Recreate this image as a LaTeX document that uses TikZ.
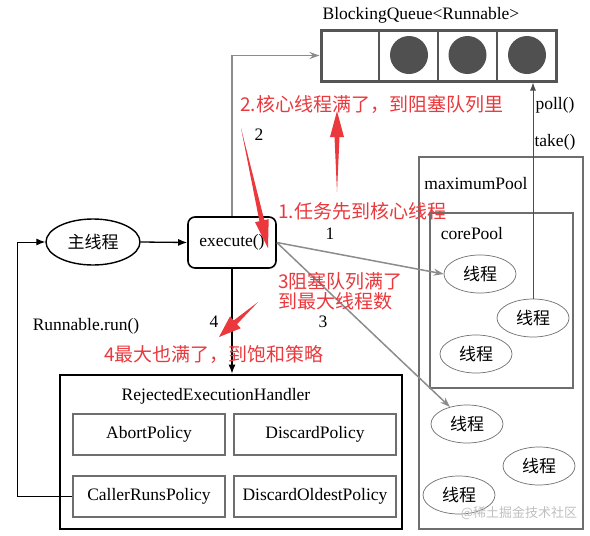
\documentclass[tikz,border=0pt]{standalone}
\usepackage{fontspec}
\setmainfont{Liberation Serif}
\newfontfamily\cjk{Noto Sans CJK SC}
\usetikzlibrary{arrows.meta,calc,shapes.geometric}
\definecolor{anno}{RGB}{234,56,60}
\definecolor{qgray}{RGB}{85,85,85}
\definecolor{dotgray}{RGB}{80,80,80}
\definecolor{boxgray}{RGB}{110,110,110}
\definecolor{lingray}{RGB}{140,140,140}
\newcommand\annoarrow[5]{%
  \fill[anno] (#1) -- ($(#2)!#3!(#1)!#5!90:(#2)$) -- ($(#2)!#3!(#1)!#4!90:(#2)$)
    -- (#2) -- ($(#2)!#3!(#1)!#4!-90:(#2)$) -- ($(#2)!#3!(#1)!#5!-90:(#2)$) -- cycle;}
\begin{document}
\begin{tikzpicture}[x=1pt,y=-1pt,
  lbl/.style={font=\fontsize{17.5}{19}\selectfont, inner sep=1pt},
  redtxt/.style={font=\cjk\fontsize{19}{21}\selectfont, text=anno, anchor=west, inner sep=0pt},
  pbox/.style={draw=boxgray, line width=2.6pt, minimum height=41, inner sep=0pt, font=\fontsize{17.5}{19}\selectfont},
  thr/.style={ellipse, draw=boxgray, line width=0.7pt, minimum width=72, minimum height=38, inner sep=0pt, font=\cjk\fontsize{17}{19}\selectfont},
  blk/.style={line width=1.3pt, -{Latex[length=9pt,width=7pt]}},
  garrow/.style={draw=lingray, line width=1.5pt, -{Stealth[length=10pt,width=7pt]}}
]
\useasboundingbox (0,0) rectangle (590,536);
% queue
\node[lbl] (qlabel) at (421,15) {BlockingQueue<Runnable>};
\node[draw=qgray, line width=3pt, minimum width=235, minimum height=51, inner sep=0pt] (queue) at (438.5,55.5) {};
\draw[qgray, line width=2.2pt] (379,30) -- (379,81) (438,30) -- (438,81) (497,30) -- (497,81);
\fill[dotgray] (409,55) circle (19);
\fill[dotgray] (467.5,55) circle (19);
\fill[dotgray] (527,55) circle (19);
% main thread and execute
\node[ellipse, draw, line width=1.4pt, minimum width=94, minimum height=46, inner sep=0pt, font=\cjk\fontsize{17}{19}\selectfont] (main) at (93,242) {主线程};
\node[draw, rounded corners=7, line width=1.6pt, minimum width=88, minimum height=51, inner sep=0pt, font=\fontsize{17.5}{19}\selectfont] (exec) at (232,242.5) {execute()};
% rejected handler
\node[draw, line width=2.6pt, minimum width=342, minimum height=154, inner sep=0pt] (reh) at (231,452) {};
\node[lbl] (rehlabel) at (216,396) {RejectedExecutionHandler};
\node[pbox, minimum width=152] (abort) at (149,434.5) {AbortPolicy};
\node[pbox, minimum width=162] (discard) at (315,434.5) {DiscardPolicy};
\node[pbox, minimum width=152] (caller) at (149,496.5) {CallerRunsPolicy};
\node[pbox, minimum width=162] (oldest) at (315,496.5) {DiscardOldestPolicy};
% pools
\node[draw=boxgray, line width=2.6pt, minimum width=164, minimum height=372, inner sep=0pt] (maxpool) at (501,343) {};
\node[lbl] (maxlabel) at (476,184) {maximumPool};
\node[draw=boxgray, line width=2.6pt, minimum width=143, minimum height=175, inner sep=0pt] (corepool) at (501.5,300.5) {};
\node[lbl] (corelabel) at (472,234) {corePool};
\node[thr] (t1) at (480,274) {线程};
\node[thr] (t2) at (533,318) {线程};
\node[thr] (t3) at (476,354) {线程};
\node[thr] (t4) at (467,424) {线程};
\node[thr] (t5) at (539,466) {线程};
\node[thr] (t6) at (459,495) {线程};
% connectors
\draw[blk] (main.east) -- (exec.west);
\draw[blk, line width=1pt] (caller.west) -- ++(-54,0) |- (main.west);
\draw[blk] (exec.south) -- (exec.south |- reh.north);
\draw[garrow] (exec.north) |- (queue.west);
\draw[garrow] (exec.east) -- (t1.west);
\draw[garrow] (exec.east) -- (t4.135);
\draw[draw=lingray, line width=1pt, -{Latex[length=8pt,width=6pt]}, color=black!70] (t2.north) -- (t2.north |- queue.south);
% small labels
\node[lbl] (l1) at (330,234) {1};
\node[lbl] (l2) at (259,135) {2};
\node[lbl] (l3) at (323,322) {3};
\node[lbl] (l4) at (214,322) {4};
\node[lbl] (lrun) at (86,326) {Runnable.run()};
\node[lbl] (lpoll) at (555,105) {poll()};
\node[lbl] (ltake) at (555,142) {take()};
% red annotations
\node[redtxt] (r2) at (240,104) {2.核心线程满了，到阻塞队列里};
\node[redtxt] (r1) at (278,211) {1.任务先到核心线程};
\node[redtxt] (r3a) at (278,281) {3阻塞队列满了};
\node[redtxt] (r3b) at (278,301) {到最大线程数};
\node[redtxt] (r4) at (104,354) {4最大也满了，到饱和策略};
\coordinate (a1t) at (241,128); \coordinate (a1h) at (268,248);
\coordinate (a2t) at (337,192); \coordinate (a2h) at (337,111);
\coordinate (a3t) at (258,302); \coordinate (a3h) at (219,337);
\annoarrow{a1t}{a1h}{28pt}{7pt}{2.5pt}
\annoarrow{a2t}{a2h}{26pt}{7pt}{2.5pt}
\annoarrow{a3t}{a3h}{22pt}{8pt}{2.5pt}
% watermark
\node[font=\cjk\fontsize{13}{15}\selectfont, text=black!25] (wm) at (519,513) {@稀土掘金技术社区};
\end{tikzpicture}
\end{document}
